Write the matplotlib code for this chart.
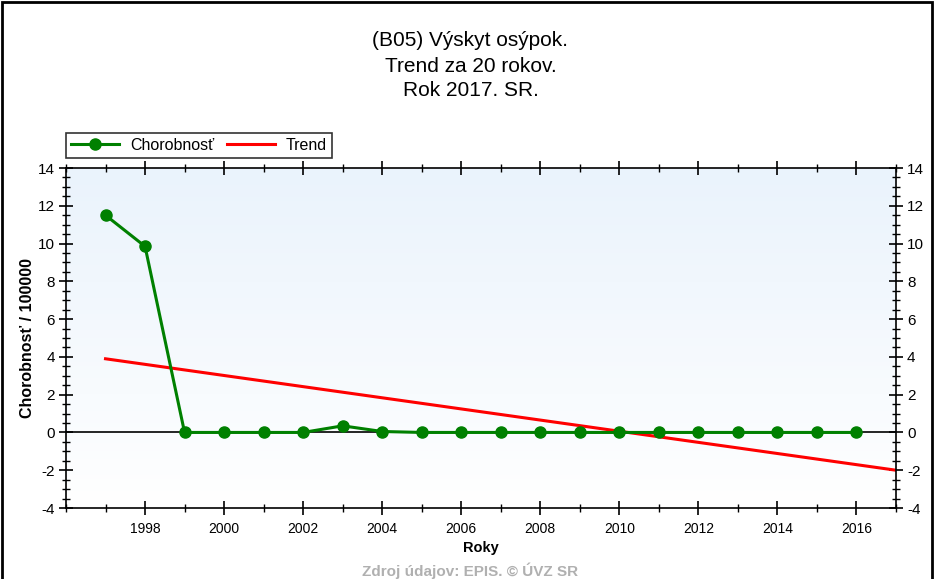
import matplotlib
matplotlib.use("Agg")
import matplotlib.pyplot as plt
import numpy as np
from matplotlib.patches import Rectangle
from matplotlib.ticker import MultipleLocator

plt.rcParams['font.family'] = ['Liberation Sans', 'DejaVu Sans']
plt.rcParams['axes.unicode_minus'] = False

years = [1997, 1998, 1999, 2000, 2001, 2002, 2003, 2004, 2005, 2006,
         2007, 2008, 2009, 2010, 2011, 2012, 2013, 2014, 2015, 2016]
morbidity = [11.5, 9.85, 0.0, 0.0, 0.0, 0.0, 0.35, 0.05, 0.0, 0.0,
             0.0, 0.0, 0.0, 0.0, 0.0, 0.0, 0.0, 0.0, 0.0, 0.0]
trend_years = [1997, 2017]
trend_values = [3.9, -2.0]

title = "(B05) Výskyt osýpok.\nTrend za 20 rokov.\nRok 2017. SR."
series_label = "Chorobnosť"
trend_label = "Trend"
xlabel = "Roky"
ylabel = "Chorobnosť / 100000"
source = "Zdroj údajov: EPIS. © ÚVZ SR"

W, H = 935, 579
fig = plt.figure(figsize=(W / 100, H / 100), dpi=100)
fig.patch.set_facecolor('white')

# outer frame
fig.add_artist(Rectangle((2 / W, -0.05), (930 / W), 1.05 - 2 / H, transform=fig.transFigure,
                         fill=False, edgecolor='black', linewidth=2))

left, right, top, bottom = 66, 896, 168, 508
ax = fig.add_axes([left / W, 1 - bottom / H, (right - left) / W, (bottom - top) / H])

# gradient background (light blue at top fading to white at bottom)
grad = np.linspace(0, 1, 256).reshape(-1, 1)
top_c = np.array([234, 243, 252]) / 255
bot_c = np.array([255, 255, 255]) / 255
img = top_c[None, None, :] * (1 - grad[:, :, None]) + bot_c[None, None, :] * grad[:, :, None]
ax.imshow(img, extent=[1996, 2017, -4, 14], aspect='auto', zorder=0, origin='upper')
ax.set_xlim(1996, 2017)
ax.set_ylim(-4, 14)

ax.axhline(0, color='black', linewidth=1.2, zorder=1)

tr, = ax.plot(trend_years, trend_values, color='#ff0000', linewidth=2.2, zorder=2)
ln, = ax.plot(years, morbidity, color='#008000', linewidth=2.2, marker='o', markersize=8,
              zorder=3)

for s in ax.spines.values():
    s.set_color('black')
    s.set_linewidth(1.2)

ax.xaxis.set_major_locator(MultipleLocator(2))
ax.xaxis.set_minor_locator(MultipleLocator(1))
ax.yaxis.set_major_locator(MultipleLocator(2))
ax.yaxis.set_minor_locator(MultipleLocator(0.5))

ax.tick_params(axis='x', which='major', direction='inout', length=10, width=1.2, top=True,
               labelsize=10, pad=5, colors='black')
ax.tick_params(axis='x', which='minor', direction='inout', length=6, width=1, top=True)
ax.tick_params(axis='y', which='major', direction='inout', length=10, width=1.2, right=True,
               labelright=True, labelsize=11, pad=3)
ax.tick_params(axis='y', which='minor', direction='inout', length=6, width=1, right=True)

ax.set_xticks([t for t in range(1998, 2017, 2)])
ax.set_xticklabels([str(t) for t in range(1998, 2017, 2)])

ax.set_xlabel(xlabel, fontsize=10.5, fontweight='bold', labelpad=4)
ax.set_ylabel(ylabel, fontsize=11.5, fontweight='bold', labelpad=2)

fig.text(0.5 + 3 / W, 1 - 66 / H, title, ha='center', va='center', fontsize=15, linespacing=1.4)

leg = ax.legend(handles=[ln, tr], labels=[series_label, trend_label], loc='lower left',
                bbox_to_anchor=(0.0, 1.03), ncol=2, frameon=True, fancybox=False, fontsize=11.5,
                borderpad=0.3, handlelength=3.0, columnspacing=0.8, handletextpad=0.7,
                borderaxespad=0)
leg.get_frame().set_edgecolor('black')
leg.get_frame().set_linewidth(1.2)

fig.text(470 / W, 1 - 571 / H, source, ha='center', va='center', fontsize=11,
         fontweight='bold', color='#b0b0b0')

fig.savefig("out.png", dpi=100)
